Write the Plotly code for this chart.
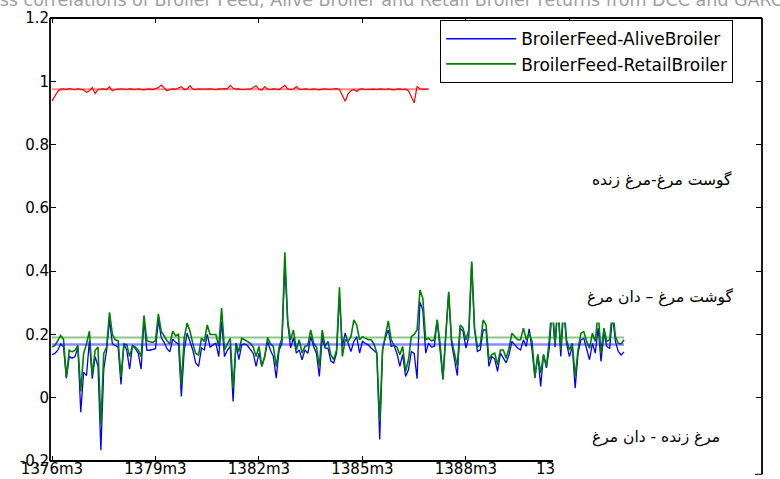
import plotly.graph_objects as go

# ---------------- data ----------------
blue = [0.136, 0.14, 0.15, 0.17, 0.16, 0.062, 0.13, 0.125, 0.13, 0.16,
        -0.046, 0.08, 0.07, 0.18, 0.06, 0.13, 0.10, -0.166, 0.09, 0.15,
        0.246, 0.17, 0.165, 0.16, 0.042, 0.17, 0.15, 0.09, 0.165, 0.155,
        0.14, 0.09, 0.246, 0.15, 0.15, 0.152, 0.155, 0.246, 0.19, 0.175,
        0.155, 0.145, 0.185, 0.175, 0.17, 0.004, 0.15, 0.204, 0.18, 0.15,
        0.11, 0.099, 0.157, 0.151, 0.2, 0.16, 0.167, 0.172, 0.13, 0.241,
        0.13, 0.15, 0.162, -0.012, 0.172, 0.12, 0.167, 0.17, 0.165, 0.151,
        0.14, 0.099, 0.141, 0.099, 0.13, 0.178, 0.15, 0.13, 0.062, 0.15,
        0.172, 0.425, 0.236, 0.157, 0.19, 0.141, 0.151, 0.12, 0.151, 0.14,
        0.193, 0.162, 0.14, 0.067, 0.188, 0.157, 0.157, 0.116, 0.11, 0.141,
        0.32, 0.162, 0.204, 0.172, 0.146, 0.178, 0.193, 0.141, 0.178, 0.172,
        0.167, 0.157, 0.15, 0.141, -0.132, 0.151, 0.19, 0.214, 0.162, 0.165,
        0.14, 0.099, 0.136, 0.067, 0.088, 0.146, 0.14, 0.06, 0.303, 0.277,
        0.141, 0.172, 0.16, 0.162, 0.246, 0.151, 0.057, 0.2, 0.33, 0.172,
        0.125, 0.07, 0.22, 0.21, 0.157, 0.193, 0.425, 0.214, 0.146, 0.151,
        0.214, 0.214, 0.099, 0.13, 0.123, 0.083, 0.141, 0.125, 0.11, 0.136,
        0.178, 0.167, 0.157, 0.151, 0.183, 0.162, 0.218, 0.151, 0.062, 0.136,
        0.036, 0.136, 0.094, 0.157, 0.28, 0.16, 0.29, 0.13, 0.28, 0.172,
        0.13, 0.162, 0.03, 0.141, 0.183, 0.188, 0.156, 0.12, 0.172, 0.141,
        0.22, 0.115, 0.204, 0.162, 0.156, 0.26, 0.178, 0.146, 0.135, 0.145]

green = [0.16, 0.165, 0.18, 0.197, 0.185, 0.065, 0.15, 0.145, 0.15, 0.165,
         0.02, 0.14, 0.17, 0.21, 0.07, 0.15, 0.16, -0.085, 0.14, 0.16,
         0.27, 0.2, 0.183, 0.18, 0.066, 0.17, 0.168, 0.13, 0.165, 0.16,
         0.15, 0.13, 0.26, 0.18, 0.177, 0.175, 0.18, 0.265, 0.21, 0.195,
         0.18, 0.17, 0.21, 0.195, 0.2, 0.041, 0.19, 0.236, 0.21, 0.17,
         0.14, 0.135, 0.188, 0.178, 0.23, 0.2, 0.2, 0.2, 0.162, 0.283,
         0.151, 0.17, 0.188, 0.03, 0.172, 0.146, 0.188, 0.183, 0.178, 0.172,
         0.16, 0.13, 0.162, 0.099, 0.13, 0.19, 0.17, 0.162, 0.099, 0.16,
         0.188, 0.46, 0.241, 0.183, 0.214, 0.151, 0.183, 0.141, 0.162, 0.165,
         0.214, 0.172, 0.16, 0.099, 0.214, 0.162, 0.178, 0.136, 0.12, 0.151,
         0.349, 0.13, 0.183, 0.178, 0.193, 0.246, 0.23, 0.183, 0.193, 0.188,
         0.183, 0.183, 0.17, 0.141, -0.075, 0.151, 0.2, 0.243, 0.183, 0.165,
         0.16, 0.136, 0.162, 0.083, 0.12, 0.193, 0.2, 0.214, 0.34, 0.314,
         0.183, 0.188, 0.18, 0.183, 0.246, 0.172, 0.062, 0.21, 0.335, 0.183,
         0.136, 0.1, 0.23, 0.22, 0.183, 0.214, 0.43, 0.22, 0.16, 0.167,
         0.246, 0.23, 0.12, 0.136, 0.141, 0.104, 0.151, 0.151, 0.125, 0.157,
         0.204, 0.193, 0.183, 0.183, 0.22, 0.183, 0.204, 0.178, 0.067, 0.136,
         0.078, 0.136, 0.099, 0.183, 0.3, 0.17, 0.3, 0.151, 0.3, 0.183,
         0.151, 0.172, 0.067, 0.151, 0.204, 0.209, 0.178, 0.156, 0.204, 0.178,
         0.27, 0.141, 0.22, 0.178, 0.183, 0.28, 0.193, 0.172, 0.17, 0.183]

red = [0.938, 0.955, 0.968, 0.975, 0.976, 0.974, 0.977, 0.975, 0.974, 0.976,
       0.975, 0.973, 0.965, 0.970, 0.980, 0.961, 0.974, 0.975, 0.976, 0.974,
       0.982, 0.970, 0.974, 0.975, 0.976, 0.975, 0.974, 0.976, 0.975, 0.974,
       0.976, 0.975, 0.973, 0.975, 0.976, 0.974, 0.977, 0.980, 0.988, 0.978,
       0.970, 0.974, 0.976, 0.975, 0.978, 0.983, 0.974, 0.976, 0.986, 0.975,
       0.974, 0.976, 0.975, 0.974, 0.975, 0.976, 0.975, 0.974, 0.976, 0.975,
       0.977, 0.976, 0.987, 0.978, 0.975, 0.976, 0.974, 0.975, 0.976, 0.975,
       0.980, 0.986, 0.975, 0.972, 0.983, 0.975, 0.974, 0.976, 0.975, 0.974,
       0.980, 0.987, 0.976, 0.974, 0.975, 0.983, 0.975, 0.974, 0.976, 0.975,
       0.974, 0.976, 0.975, 0.973, 0.975, 0.976, 0.974, 0.975, 0.976, 0.977,
       0.974, 0.955, 0.937, 0.960, 0.970, 0.974, 0.968, 0.975, 0.976, 0.974,
       0.975, 0.976, 0.975, 0.974, 0.976, 0.975, 0.974, 0.976, 0.975, 0.973,
       0.975, 0.976, 0.974, 0.975, 0.970, 0.950, 0.932, 0.984, 0.976, 0.975,
       0.975, 0.975]

blue_mean = 0.168
green_mean = 0.19
red_mean = 0.975

series_names = ["BroilerFeed-AliveBroiler", "BroilerFeed-RetailBroiler"]
xtick_vals = [0, 36, 72, 108, 144]
xtick_text = ["1376m3", "1379m3", "1382m3", "1385m3", "1388m3"]
top_tick_vals = [0, 36, 72, 108, 144, 180]
ytick_vals = [-0.2, 0, 0.2, 0.4, 0.6, 0.8, 1, 1.2]
ytick_text = ["-0.2", "0", "0.2", "0.4", "0.6", "0.8", "1", "1.2"]
labels_fa = ["گوست مرغ-مرغ زنده", "گوشت مرغ – دان مرغ", "مرغ زنده - دان مرغ"]
title_text = ("Cross correlations of Broiler Feed, Alive Broiler and "
              "Retail Broiler returns from DCC and GARCH")

XR = [-0.7, 247.0]
YR = [-0.2, 1.2]

xb = list(range(len(blue)))
xr = list(range(len(red)))

fig = go.Figure()
fig.add_trace(go.Scatter(x=xb, y=blue, mode="lines", name=series_names[0],
                         line=dict(color="#0000ff", width=1.3)))
fig.add_trace(go.Scatter(x=xb, y=green, mode="lines", name=series_names[1],
                         line=dict(color="#008000", width=1.6)))
fig.add_trace(go.Scatter(x=xr, y=red, mode="lines", showlegend=False,
                         line=dict(color="#ff0000", width=1.2)))
fig.add_trace(go.Scatter(x=[xb[0], xb[-1]], y=[blue_mean, blue_mean], mode="lines",
                         showlegend=False, opacity=0.45,
                         line=dict(color="#0000ff", width=2.5)))
fig.add_trace(go.Scatter(x=[xb[0], xb[-1]], y=[green_mean, green_mean], mode="lines",
                         showlegend=False, opacity=0.45,
                         line=dict(color="#008000", width=2)))
fig.add_trace(go.Scatter(x=[xr[0], xr[-1]], y=[red_mean, red_mean], mode="lines",
                         showlegend=False, opacity=0.45,
                         line=dict(color="#ff0000", width=2),
                         xaxis="x2", yaxis="y2"))

xfont = dict(family="DejaVu Sans", size=15, color="black")
yfont = dict(family="DejaVu Sans", size=15, color="black")

fig.update_layout(
    width=780, height=479,
    margin=dict(l=50, r=18, t=18, b=18),
    paper_bgcolor="white", plot_bgcolor="white",
    xaxis=dict(range=XR, tickvals=xtick_vals, ticktext=xtick_text,
               ticks="inside", ticklen=5, tickcolor="black", tickwidth=1,
               showgrid=False, zeroline=False, showline=False, automargin=False,
               tickfont=xfont, ticklabelstandoff=-3),
    xaxis2=dict(range=XR, overlaying="x", side="top", tickvals=top_tick_vals,
                ticks="inside", ticklen=5, tickcolor="black", showticklabels=False,
                showgrid=False, zeroline=False, showline=False, automargin=False),
    yaxis=dict(range=YR, tickvals=ytick_vals, ticktext=ytick_text,
               ticks="inside", ticklen=6, tickcolor="black", automargin=False,
               showgrid=False, zeroline=False, showline=False,
               tickfont=yfont),
    yaxis2=dict(range=YR, overlaying="y", side="right", tickvals=ytick_vals,
                ticks="inside", ticklen=6, tickcolor="black", showticklabels=False,
                showgrid=False, zeroline=False, showline=False, automargin=False),
    legend=dict(x=0.548, y=0.995, xanchor="left", yanchor="top",
                bgcolor="white", bordercolor="black", borderwidth=1,
                font=dict(family="DejaVu Sans", size=17, color="black"),
                itemwidth=70, tracegroupgap=0),
    showlegend=True,
)

# white patch that hides the top of the curves on the right (as in the source image)
fig.add_shape(type="rect", xref="paper", yref="y", x0=0.702, x1=0.99, y0=0.238, y1=1.1,
              fillcolor="white", line=dict(width=0), layer="above")

# axis box lines
ax_line = dict(color="black", width=1.8)
fig.add_shape(type="line", xref="paper", yref="paper", x0=0, x1=0, y0=0, y1=1, line=ax_line, layer="above")
fig.add_shape(type="line", xref="paper", yref="paper", x0=0, x1=1, y0=1, y1=1, line=ax_line, layer="above")
fig.add_shape(type="line", xref="paper", yref="paper", x0=0, x1=0.7065, y0=0, y1=0, line=ax_line, layer="above")
fig.add_shape(type="line", xref="paper", yref="paper", x0=1, x1=1, y0=-0.03, y1=1, line=ax_line, layer="above")
fig.add_shape(type="line", xref="paper", yref="paper", x0=0.99, x1=1, y0=-0.03, y1=-0.03,
              line=dict(color="black", width=1), layer="above")

# truncated last tick label
fig.add_annotation(text="13", xref="paper", yref="paper", x=(534 - 50) / 712, y=0,
                   xanchor="left", yanchor="top", showarrow=False, font=xfont, yshift=3)

# Persian labels
fa_font = dict(family="DejaVu Sans", size=15.5, color="black")
fa_pos = [(0.9607, 0.634), (0.962, 0.370), (0.944, 0.054)]
for t, (px, py) in zip(labels_fa, fa_pos):
    fig.add_annotation(text=t, xref="paper", yref="paper", x=px, y=py,
                       xanchor="right", yanchor="middle", showarrow=False, font=fa_font)

# cut-off title at the very top
fig.add_annotation(text=title_text, xref="paper", yref="paper", x=-0.115, y=1.041,
                   xanchor="left", yanchor="middle", showarrow=False,
                   font=dict(family="DejaVu Sans", size=17.5, color="#a0a0a0"))

fig.write_html("out.html")
